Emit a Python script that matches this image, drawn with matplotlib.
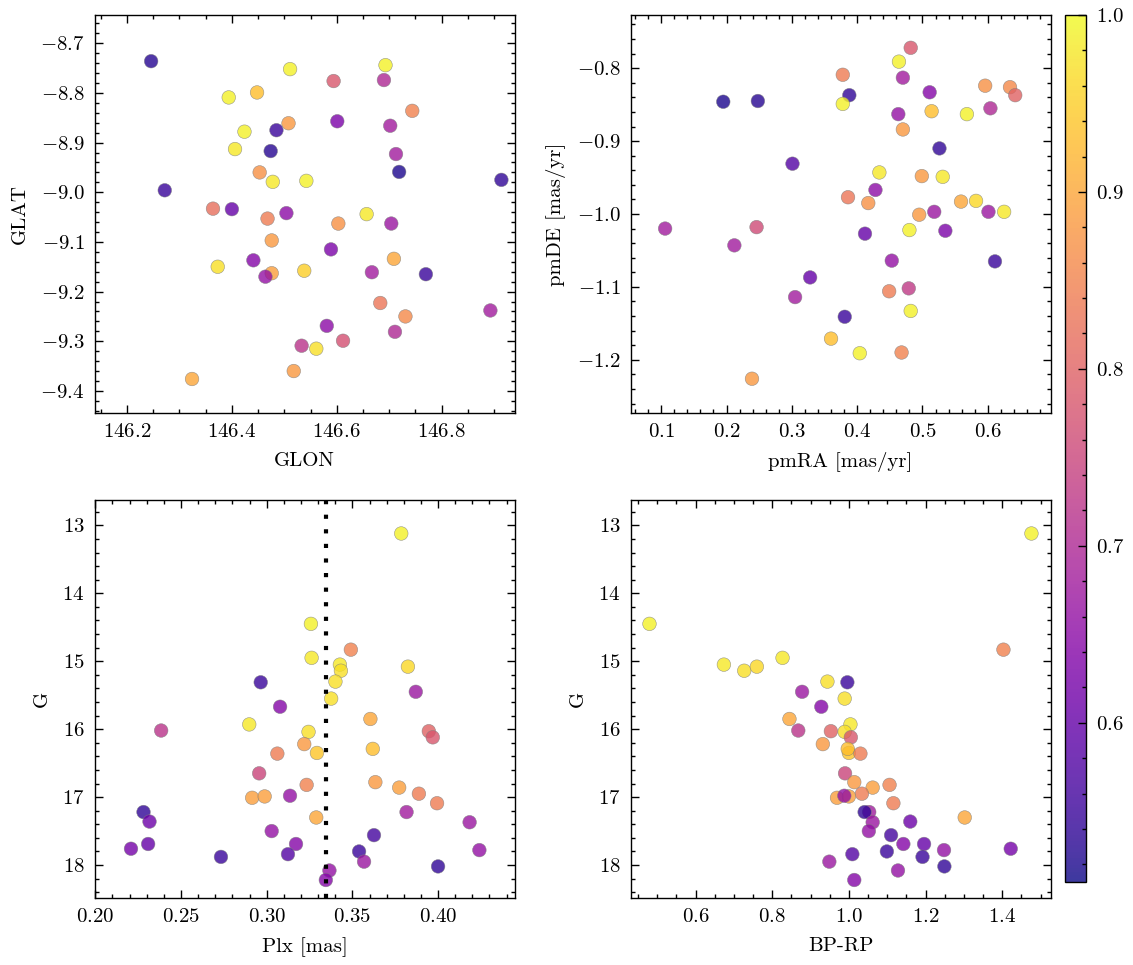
import matplotlib
matplotlib.use("Agg")
import matplotlib.pyplot as plt
from matplotlib.ticker import MultipleLocator
import numpy as np

# sky positions (galactic) and membership probability
glon = [146.246, 146.511, 146.693, 146.594, 146.690, 146.394, 146.448, 146.744, 146.508, 146.485,
        146.601, 146.702, 146.424, 146.406, 146.474, 146.713, 146.719, 146.453, 146.478, 146.542,
        146.914, 146.272, 146.364, 146.400, 146.504, 146.468, 146.657, 146.603, 146.704, 146.476,
        146.589, 146.709, 146.441, 146.373, 146.538, 146.476, 146.464, 146.667, 146.770, 146.683,
        146.731, 146.893, 146.581, 146.711, 146.533, 146.561, 146.612, 146.518, 146.324]
glat = [-8.736, -8.752, -8.744, -8.776, -8.774, -8.809, -8.799, -8.836, -8.861, -8.875,
        -8.857, -8.866, -8.878, -8.913, -8.917, -8.923, -8.959, -8.960, -8.979, -8.977,
        -8.975, -8.996, -9.033, -9.034, -9.042, -9.053, -9.044, -9.063, -9.063, -9.097,
        -9.115, -9.134, -9.137, -9.150, -9.158, -9.163, -9.170, -9.161, -9.165, -9.223,
        -9.250, -9.238, -9.269, -9.281, -9.309, -9.315, -9.299, -9.360, -9.376]
prob_sky = [0.53, 0.99, 0.99, 0.78, 0.70, 0.99, 0.93, 0.85, 0.88, 0.55,
            0.63, 0.68, 0.99, 0.98, 0.53, 0.68, 0.52, 0.87, 0.98, 0.99,
            0.54, 0.55, 0.82, 0.60, 0.65, 0.84, 0.98, 0.87, 0.67, 0.88,
            0.63, 0.90, 0.64, 0.97, 0.95, 0.89, 0.66, 0.68, 0.55, 0.83,
            0.86, 0.68, 0.65, 0.70, 0.72, 0.97, 0.77, 0.88, 0.90]

# proper motions
pmra = [0.482, 0.464, 0.378, 0.470, 0.195, 0.248, 0.388, 0.378, 0.511, 0.596,
        0.634, 0.642, 0.463, 0.514, 0.568, 0.604, 0.470, 0.526, 0.301, 0.434,
        0.499, 0.531, 0.428, 0.386, 0.417, 0.559, 0.582, 0.518, 0.495, 0.601,
        0.625, 0.106, 0.246, 0.412, 0.480, 0.535, 0.212, 0.453, 0.611, 0.328,
        0.305, 0.449, 0.479, 0.482, 0.381, 0.360, 0.404, 0.468, 0.239]
pmde = [-0.772, -0.791, -0.809, -0.813, -0.846, -0.845, -0.837, -0.849, -0.833, -0.824,
        -0.826, -0.837, -0.863, -0.859, -0.863, -0.855, -0.884, -0.910, -0.931, -0.943,
        -0.948, -0.949, -0.967, -0.977, -0.985, -0.983, -0.982, -0.997, -1.001, -0.997,
        -0.997, -1.020, -1.018, -1.027, -1.022, -1.023, -1.043, -1.064, -1.065, -1.087,
        -1.114, -1.106, -1.102, -1.133, -1.141, -1.171, -1.191, -1.190, -1.226]
prob_pm = [0.78, 0.99, 0.84, 0.68, 0.52, 0.53, 0.54, 0.99, 0.64, 0.87,
           0.86, 0.80, 0.66, 0.93, 0.99, 0.70, 0.88, 0.54, 0.58, 0.98,
           0.88, 0.98, 0.65, 0.83, 0.87, 0.90, 0.96, 0.67, 0.88, 0.67,
           0.98, 0.68, 0.76, 0.60, 0.99, 0.63, 0.68, 0.66, 0.55, 0.60,
           0.68, 0.84, 0.73, 0.99, 0.55, 0.93, 0.99, 0.85, 0.88]

# parallax, photometry (same stars in both lower panels)
plx = [0.3785, 0.3258, 0.3262, 0.3491, 0.3427, 0.3433, 0.3824, 0.2965, 0.3401, 0.3870,
       0.3078, 0.3376, 0.3605, 0.2898, 0.2384, 0.3244, 0.3946, 0.3969, 0.3219, 0.3293,
       0.3619, 0.3062, 0.2956, 0.3634, 0.3233, 0.3773, 0.3888, 0.2915, 0.2988, 0.3136,
       0.3994, 0.3816, 0.2281, 0.2316, 0.3289, 0.4184, 0.3029, 0.3626, 0.2308, 0.3171,
       0.2208, 0.4241, 0.2733, 0.3124, 0.3539, 0.3568, 0.4000, 0.3366, 0.3345]
gmag = [13.12, 14.45, 14.95, 14.83, 15.05, 15.14, 15.08, 15.31, 15.30, 15.45,
        15.67, 15.55, 15.85, 15.93, 16.02, 16.04, 16.03, 16.12, 16.22, 16.35,
        16.29, 16.36, 16.65, 16.78, 16.82, 16.86, 16.95, 17.01, 16.99, 16.98,
        17.09, 17.22, 17.22, 17.36, 17.30, 17.37, 17.50, 17.56, 17.69, 17.69,
        17.76, 17.78, 17.88, 17.84, 17.80, 17.95, 18.02, 18.08, 18.22]
bp_rp = [1.476, 0.480, 0.827, 1.403, 0.674, 0.727, 0.760, 0.996, 0.944, 0.878,
         0.928, 0.989, 0.845, 1.004, 0.868, 0.989, 0.953, 1.005, 0.932, 1.000,
         0.997, 1.030, 0.990, 1.014, 1.106, 1.062, 1.034, 0.969, 1.000, 0.988,
         1.116, 1.053, 1.041, 1.160, 1.302, 1.062, 1.052, 1.110, 1.196, 1.142,
         1.422, 1.248, 1.192, 1.009, 1.099, 0.949, 1.249, 1.128, 1.014]
prob = [0.99, 0.99, 0.98, 0.85, 0.98, 0.97, 0.96, 0.55, 0.97, 0.67,
        0.64, 0.97, 0.90, 0.98, 0.72, 0.97, 0.80, 0.78, 0.88, 0.94,
        0.93, 0.84, 0.75, 0.88, 0.85, 0.89, 0.84, 0.89, 0.89, 0.66,
        0.84, 0.68, 0.54, 0.61, 0.90, 0.67, 0.66, 0.56, 0.60, 0.64,
        0.62, 0.66, 0.55, 0.58, 0.55, 0.67, 0.54, 0.66, 0.64]

plx_mean = 0.3347

plt.rcParams.update({
    'font.family': 'cmr10',
    'mathtext.fontset': 'cm',
    'axes.formatter.use_mathtext': True,
    'font.size': 7.5,
    'axes.linewidth': 0.5,
    'xtick.direction': 'in', 'ytick.direction': 'in',
    'xtick.top': True, 'ytick.right': True,
    'xtick.minor.visible': True, 'ytick.minor.visible': True,
    'xtick.major.size': 3, 'ytick.major.size': 3,
    'xtick.minor.size': 1.5, 'ytick.minor.size': 1.5,
    'xtick.major.width': 0.5, 'ytick.major.width': 0.5,
    'xtick.minor.width': 0.5, 'ytick.minor.width': 0.5,
})

W, H = 1133, 965
fig = plt.figure(figsize=(W / 200, H / 200), dpi=200)

def add_ax(l, t, r, b):
    return fig.add_axes([l / W, 1 - b / H, (r - l) / W, (b - t) / H])

ax1 = add_ax(94.5, 15, 514.5, 413)
ax2 = add_ax(630.5, 15, 1050.5, 413)
ax3 = add_ax(94.5, 500, 514.5, 898)
ax4 = add_ax(630.5, 500, 1050.5, 898)
cax = add_ax(1065, 15, 1086, 882)

kw = dict(cmap='plasma', vmin=0.51, vmax=1.0, s=24, alpha=0.8,
          edgecolors='grey', linewidths=0.2)

ax1.scatter(glon, glat, c=prob_sky, **kw)
ax1.set_xlim(146.138, 146.939)
ax1.set_ylim(-9.4445, -8.643)
ax1.set_xlabel('GLON')
ax1.set_ylabel('GLAT')

ax2.scatter(pmra, pmde, c=prob_pm, **kw)
ax2.set_xlim(0.053, 0.696)
ax2.set_ylim(-1.273, -0.727)
ax2.xaxis.set_major_locator(MultipleLocator(0.1))
ax2.set_xlabel('pmRA [mas/yr]')
ax2.set_ylabel('pmDE [mas/yr]')

ax3.scatter(plx, gmag, c=prob, **kw)
ax3.axvline(plx_mean, color='k', lw=1.5, ls=(0, (1, 2.5)))
ax3.set_xlim(0.1995, 0.4446)
ax3.set_ylim(18.485, 12.627)
ax3.set_xlabel('Plx [mas]')
ax3.set_ylabel('G')

sc = ax4.scatter(bp_rp, gmag, c=prob, **kw)
ax4.set_xlim(0.4305, 1.5257)
ax4.set_ylim(18.485, 12.627)
ax4.set_xlabel('BP-RP')
ax4.set_ylabel('G')

cb = fig.colorbar(sc, cax=cax)
cb.set_ticks([0.6, 0.7, 0.8, 0.9, 1.0])
cb.ax.minorticks_on()
cb.outline.set_linewidth(0.5)

fig.savefig('out.png', dpi=200)
